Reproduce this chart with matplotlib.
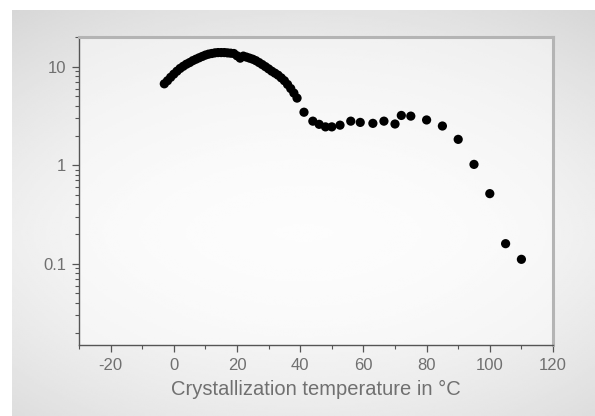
import numpy as np
import matplotlib
matplotlib.use("Agg")
import matplotlib.pyplot as plt
from matplotlib.ticker import FixedLocator, LogLocator, NullFormatter, FixedFormatter

# values
temp_c = [-3, -2, -1, 0, 1, 2, 3, 4, 5, 6, 7, 8, 9, 10, 11, 12, 13, 14, 15,
          16, 17, 18, 19, 20, 21, 22, 23, 24, 25, 26, 27, 28, 29, 30, 31, 32,
          33, 34, 35, 36, 37, 38, 39, 41.2, 44, 46, 48, 50, 52.6, 56, 59, 63,
          66.5, 70, 72, 75, 80, 85, 90, 95, 100, 105, 110]
rate = [6.7, 7.2, 7.8, 8.4, 9.0, 9.6, 10.1, 10.6, 11.0, 11.5, 11.9, 12.3,
        12.7, 13.1, 13.4, 13.6, 13.8, 13.9, 13.9, 13.9, 13.8, 13.7, 13.6,
        12.9, 12.2, 12.8, 12.5, 12.2, 11.9, 11.5, 11.0, 10.5, 10.0, 9.5, 9.0,
        8.6, 8.2, 7.7, 7.2, 6.6, 6.0, 5.4, 4.8, 3.45, 2.8, 2.6, 2.45, 2.45,
        2.55, 2.8, 2.72, 2.66, 2.8, 2.62, 3.2, 3.15, 2.88, 2.5, 1.83, 1.02,
        0.515, 0.16, 0.111]

x_ticks = [-20, 0, 20, 40, 60, 80, 100, 120]
y_ticks = [0.1, 1, 10]
y_tick_labels = ["0.1", "1", "10"]
x_label = "Crystallization temperature in °C"

plt.rcParams["font.family"] = ["Liberation Sans", "DejaVu Sans"]
plt.rcParams["axes.unicode_minus"] = False

fig = plt.figure(figsize=(5.95, 4.16), dpi=100)
fig.patch.set_facecolor("white")

# soft grey panel with a light vignette, as in the source frame
bg = fig.add_axes([12 / 595, 0, 583 / 595, 406 / 416], zorder=-10)
yy, xx = np.mgrid[0:1:200j, 0:1:300j]
shade = 0.985 - 0.11 * np.abs(yy - 0.55) ** 1.6 * 2.2 - 0.05 * np.abs(xx - 0.5) ** 2 * 4
bg.imshow(shade, cmap="gray", vmin=0, vmax=1, aspect="auto",
          extent=[0, 1, 0, 1], interpolation="bilinear")
bg.set_axis_off()

ax = fig.add_axes([79 / 595, 1 - 345 / 416, 474 / 595, 308 / 416])
ax.set_facecolor((1, 1, 1, 0.45))

ax.scatter(temp_c, rate, s=44, color="black", edgecolors="none", zorder=3)

ax.set_yscale("log")
ax.set_xlim(-30, 120)
ax.set_ylim(0.015, 20)

ax.xaxis.set_major_locator(FixedLocator(x_ticks))
ax.xaxis.set_minor_locator(FixedLocator([-30, -10, 10, 30, 50, 70, 90, 110]))
ax.yaxis.set_major_locator(FixedLocator(y_ticks))
ax.yaxis.set_major_formatter(FixedFormatter(y_tick_labels))
ax.yaxis.set_minor_locator(LogLocator(base=10, subs=np.arange(2, 10)))
ax.yaxis.set_minor_formatter(NullFormatter())

for side in ["left", "bottom"]:
    ax.spines[side].set_color("#555555")
    ax.spines[side].set_linewidth(1.0)
for side in ["top", "right"]:
    ax.spines[side].set_color("#b4b4b4")
    ax.spines[side].set_linewidth(2.2)

ax.tick_params(which="major", direction="out", length=5, width=0.9,
               color="#555555", labelcolor="#707070", labelsize=12, pad=4)
ax.tick_params(which="minor", direction="out", length=3, width=0.8,
               color="#555555")

ax.set_xlabel(x_label, fontsize=14.5, color="#707070", labelpad=5)

fig.savefig("out.png", dpi=100)
